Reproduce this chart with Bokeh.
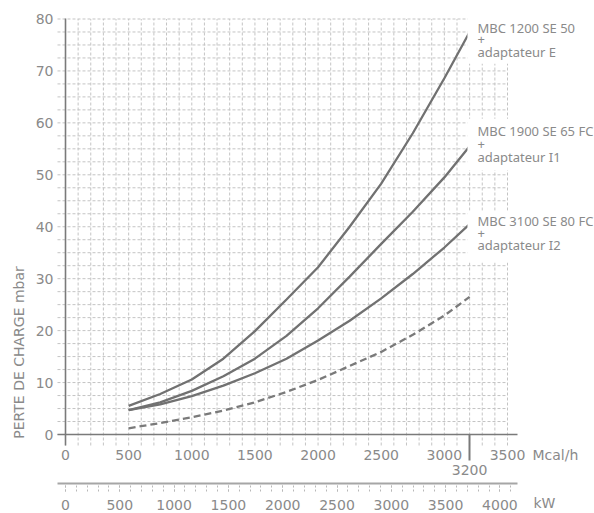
from bokeh.plotting import figure
from bokeh.models import (LinearAxis, Range1d, FixedTicker, Label, ColumnDataSource, BoxAnnotation)
from bokeh.embed import file_html
from bokeh.resources import INLINE

# ---- data ----
mcal = [500, 750, 1000, 1250, 1500, 1750, 2000, 2250, 2500, 2750, 3000, 3200]
mbc1200 = [5.5, 7.8, 10.6, 14.6, 19.9, 26.0, 32.2, 40.0, 48.3, 58.0, 68.6, 77.5]
mbc1900 = [4.7, 6.2, 8.4, 11.2, 14.6, 19.0, 24.3, 30.4, 36.7, 42.9, 49.5, 55.5]
mbc3100 = [4.7, 5.8, 7.4, 9.4, 11.8, 14.6, 18.1, 21.9, 26.2, 30.9, 36.0, 40.5]
reference_dashed = [1.2, 2.2, 3.3, 4.6, 6.2, 8.2, 10.5, 13.2, 15.9, 19.2, 22.9, 26.5]

# curve captions: one entry per text line (text, mbar level of the line)
caption_lines = [("MBC 1200 SE 50", 78.36), ("+", 76.05), ("adaptateur E", 73.55),
                 ("MBC 1900 SE 65 FC", 58.43), ("+", 55.90), ("adaptateur I1", 53.52),
                 ("MBC 3100 SE 80 FC", 41.07), ("+", 38.70), ("adaptateur I2", 36.49)]
caption_boxes = [(71.4, 84.0), (50.9, 60.8), (33.1, 43.1)]  # white backing (bottom, top)

mcal_ticks = [0, 500, 1000, 1500, 2000, 2500, 3000, 3500]
max_mark = [3200]
kw_ticks = [0, 500, 1000, 1500, 2000, 2500, 3000, 3500, 4000]
kw_minor = list(range(0, 4101, 100))
y_ticks = [0, 10, 20, 30, 40, 50, 60, 70, 80]
grid_x = list(range(0, 3501, 100))
grid_y = [i * 2.5 for i in range(33)]
KW_FACTOR = 0.86  # Mcal/h per kW

FONT = "DejaVu Sans"
CAP_FONT = "Noto Sans"
TXT = "#8a8a8a"
CURVE = "#717171"
GRID = "#c4c4c4"

# whole canvas is the frame
X0, X1 = -514.7, 4188.9
Y0, Y1 = -15.21, 83.56
GX0, GY0 = -63.35, -2.12   # grid overhang past the axes

p = figure(width=594, height=513, x_range=Range1d(X0, X1), y_range=Range1d(Y0, Y1),
           x_axis_location=None, y_axis_location=None,
           output_backend="svg", toolbar_location=None,
           min_border=0, min_border_left=0, min_border_right=0,
           min_border_top=0, min_border_bottom=0,
           outline_line_color=None, background_fill_color="white", border_fill_color="white")
p.grid.visible = False
p.extra_x_ranges = {"kw": Range1d(X0 / KW_FACTOR, X1 / KW_FACTOR)}

# grid (dashed), limited to the chart area
p.segment(x0=grid_x, y0=[GY0] * len(grid_x), x1=grid_x, y1=[80] * len(grid_x),
          line_color=GRID, line_width=1, line_dash="3 2")
p.segment(x0=[GX0] * len(grid_y), y0=grid_y, x1=[3500] * len(grid_y), y1=grid_y,
          line_color=GRID, line_width=1, line_dash="3 2")

# curves
src = ColumnDataSource(dict(x=mcal, a=mbc1200, b=mbc1900, c=mbc3100, d=reference_dashed))
for col in ["a", "b", "c"]:
    p.line("x", col, source=src, line_color=CURVE, line_width=2.3)
p.line("x", "d", source=src, line_color="#7a7a7a", line_width=2.3, line_dash="7 4")

# y axis at x = 0
yax = LinearAxis(fixed_location=0, ticker=FixedTicker(ticks=y_ticks, minor_ticks=[]),
                 bounds=(GY0, 80), axis_line_color="#7a7a7a", axis_line_width=1.6,
                 major_tick_out=0, major_tick_in=0, minor_tick_out=0, minor_tick_in=0,
                 major_label_standoff=12, major_label_text_font=FONT,
                 major_label_text_font_size="14px", major_label_text_color=TXT)
p.add_layout(yax, "left")

# Mcal/h axis at y = 0
xax = LinearAxis(fixed_location=0, ticker=FixedTicker(ticks=mcal_ticks, minor_ticks=[]),
                 bounds=(GX0, 3580), axis_line_color="#7a7a7a", axis_line_width=1.6,
                 major_tick_out=0, major_tick_in=0, minor_tick_out=0, minor_tick_in=0,
                 major_label_standoff=15, major_label_text_font=FONT,
                 major_label_text_font_size="14px", major_label_text_color=TXT)
p.add_layout(xax, "below")

# 3200 mark
mark = LinearAxis(fixed_location=0, ticker=FixedTicker(ticks=max_mark, minor_ticks=[]),
                  axis_line_color=None, major_tick_out=26, major_tick_in=0,
                  minor_tick_out=0, minor_tick_in=0,
                  major_tick_line_color="#7a7a7a", major_tick_line_width=2,
                  major_label_standoff=4, major_label_text_font=FONT,
                  major_label_text_font_size="14px", major_label_text_color=TXT)
p.add_layout(mark, "below")

# kW axis
kwax = LinearAxis(x_range_name="kw", fixed_location=-9.43,
                  ticker=FixedTicker(ticks=kw_ticks, minor_ticks=kw_minor),
                  bounds=(GX0 / KW_FACTOR, 3580 / KW_FACTOR),
                  axis_line_color="#a6a6a6", axis_line_width=2,
                  major_tick_out=8, major_tick_in=0, minor_tick_out=8, minor_tick_in=0,
                  major_tick_line_color="#b8b8b8", major_tick_line_dash="2 2",
                  minor_tick_line_color="#b8b8b8", minor_tick_line_dash="2 2",
                  major_label_standoff=9, major_label_text_font=FONT,
                  major_label_text_font_size="14px", major_label_text_color=TXT)
p.add_layout(kwax, "below")

# white backing behind the captions
for bottom, top in caption_boxes:
    p.add_layout(BoxAnnotation(left=3183, right=X1, bottom=bottom, top=top,
                               fill_color="white", fill_alpha=1.0, line_color=None))

for txt, yy in caption_lines:
    p.add_layout(Label(x=3262, y=yy, text=txt, text_font=CAP_FONT, text_font_size="13px",
                       text_color=TXT, text_align="left", text_baseline="middle"))

p.add_layout(Label(x=-372, y=15.8, text="PERTE DE CHARGE mbar", angle=90, angle_units="deg",
                   text_font=FONT, text_font_size="14px", text_color=TXT,
                   text_align="center", text_baseline="middle"))
p.add_layout(Label(x=3698, y=-4.04, text="Mcal/h", text_font=FONT, text_font_size="14px",
                   text_color=TXT, text_align="left", text_baseline="middle"))
p.add_layout(Label(x=3706, y=-13.2, text="kW", text_font=FONT, text_font_size="14px",
                   text_color=TXT, text_align="left", text_baseline="middle"))

open("out.html", "w").write(file_html(p, INLINE))
